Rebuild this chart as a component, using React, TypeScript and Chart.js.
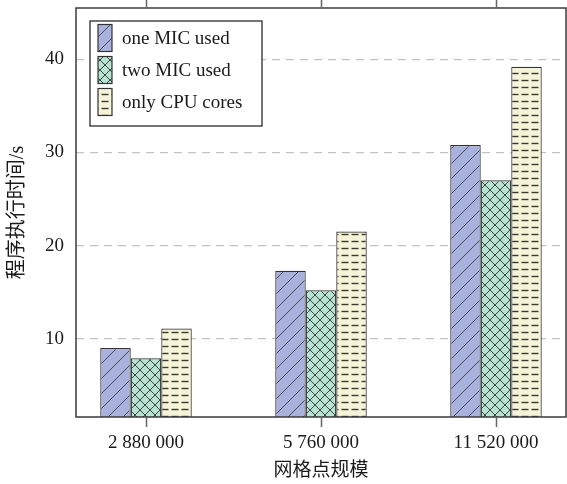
import React, { useEffect, useRef } from 'react';
import { Chart, registerables } from 'chart.js';

Chart.register(...registerables);

const CATEGORIES = ['2 880 000', '5 760 000', '11 520 000'];
const SERIES_LABELS = ['one MIC used', 'two MIC used', 'only CPU cores'];
const ONE_MIC = [9.0, 17.3, 30.8];
const TWO_MIC = [7.9, 15.2, 27.0];
const CPU_ONLY = [11.1, 21.5, 39.2];
const Y_TICKS = [10, 20, 30, 40];
const X_TITLE = '网格点规模';
const Y_TITLE = '程序执行时间/s';

const FONT_FAMILY = '"Liberation Serif", "Times New Roman", "Noto Sans CJK SC", serif';
const TEXT_COLOR = '#1a1a1a';

function makePattern(kind: 'diag' | 'cross' | 'dash', bg: string): CanvasPattern | string {
  const c = document.createElement('canvas');
  const ctx = c.getContext('2d');
  if (!ctx) return bg;
  if (kind === 'diag') {
    const s = 15;
    c.width = s; c.height = s;
    ctx.fillStyle = bg; ctx.fillRect(0, 0, s, s);
    ctx.strokeStyle = '#454a5e'; ctx.lineWidth = 1;
    ctx.beginPath();
    ctx.moveTo(-1, s + 1); ctx.lineTo(s + 1, -1);
    ctx.moveTo(-2, 2); ctx.lineTo(2, -2);
    ctx.moveTo(s - 2, s + 2); ctx.lineTo(s + 2, s - 2);
    ctx.stroke();
  } else if (kind === 'cross') {
    const s = 10;
    c.width = s; c.height = s;
    ctx.fillStyle = bg; ctx.fillRect(0, 0, s, s);
    ctx.strokeStyle = '#3c4a44'; ctx.lineWidth = 1;
    ctx.beginPath();
    ctx.moveTo(-1, s + 1); ctx.lineTo(s + 1, -1);
    ctx.moveTo(-1, -1); ctx.lineTo(s + 1, s + 1);
    ctx.stroke();
  } else {
    const w = 10, h = 7;
    c.width = w; c.height = h;
    ctx.fillStyle = bg; ctx.fillRect(0, 0, w, h);
    ctx.strokeStyle = '#3a3a30'; ctx.lineWidth = 1.4;
    ctx.beginPath();
    ctx.moveTo(1.5, 3.5); ctx.lineTo(8.5, 3.5);
    ctx.stroke();
  }
  return ctx.createPattern(c, 'repeat') || bg;
}

export default function App() {
  const canvasRef = useRef<HTMLCanvasElement | null>(null);

  useEffect(() => {
    const canvas = canvasRef.current;
    if (!canvas) return;
    const fills = [
      makePattern('diag', '#a9b2dc'),
      makePattern('cross', '#b8e2d1'),
      makePattern('dash', '#f6f4d8'),
    ];
    const seriesValues = [ONE_MIC, TWO_MIC, CPU_ONLY];

    const framePlugin = {
      id: 'frameAndLegend',
      afterDraw(chart: any) {
        const { ctx, chartArea } = chart;
        const { left, right, top, bottom } = chartArea;
        const xScale = chart.scales.x;
        ctx.save();
        // frame
        ctx.strokeStyle = '#3a3a3a';
        ctx.lineWidth = 1.5;
        ctx.strokeRect(left, top, right - left, bottom - top);

        // top mirror ticks and bottom tick marks
        ctx.strokeStyle = '#666666';
        ctx.lineWidth = 1.5;
        CATEGORIES.forEach((_, i) => {
          const px = Math.round(xScale.getPixelForValue(i + 1)) + 0.5;
          ctx.beginPath();
          ctx.moveTo(px, 0);
          ctx.lineTo(px, top - 0.75);
          ctx.moveTo(px, bottom + 0.5);
          ctx.lineTo(px, bottom + 10);
          ctx.stroke();
        });

        // legend
        const bx = left + 14, by = top + 13, bw = 172, bh = 105;
        ctx.fillStyle = '#ffffff';
        ctx.fillRect(bx, by, bw, bh);
        ctx.strokeStyle = '#2a2a2a';
        ctx.lineWidth = 1.3;
        ctx.strokeRect(bx, by, bw, bh);
        ctx.font = `19px ${FONT_FAMILY}`;
        ctx.textBaseline = 'middle';
        ctx.textAlign = 'left';
        chart.data.datasets.forEach((ds: any, i: number) => {
          const cy = by + 17 + i * 32;
          const sx = bx + 8, sw = 14, sh = 27;
          ctx.fillStyle = ds.backgroundColor;
          ctx.fillRect(sx, cy - sh / 2, sw, sh);
          ctx.strokeStyle = '#333';
          ctx.lineWidth = 1.2;
          ctx.strokeRect(sx, cy - sh / 2, sw, sh);
          ctx.fillStyle = TEXT_COLOR;
          ctx.fillText(ds.label, bx + 32, cy + 1);
        });
        ctx.restore();
      },
    };

    const chart = new Chart(canvas, {
      type: 'bar',
      data: {
        datasets: SERIES_LABELS.map((label, i) => ({
          label,
          data: seriesValues[i].map((v, j) => ({ x: j + 1, y: v })),
          backgroundColor: fills[i] as any,
          borderColor: '#333333',
          borderWidth: 1.2,
          categoryPercentage: 0.523,
          barPercentage: 1,
        })),
      },
      options: {
        animation: false,
        responsive: true,
        maintainAspectRatio: false,
        layout: { padding: { top: 8, right: 1, left: 0, bottom: 0 } },
        plugins: {
          legend: { display: false },
          tooltip: { enabled: false },
        },
        scales: {
          x: {
            type: 'linear',
            min: 0.6,
            max: 3.4,
            offset: false,
            afterBuildTicks: (scale: any) => {
              scale.ticks = CATEGORIES.map((_, i) => ({ value: i + 1 }));
            },
            afterFit: (scale: any) => {
              scale.height = 67;
              scale.paddingLeft = 0;
              scale.paddingRight = 0;
            },
            grid: {
              offset: false,
              drawOnChartArea: false,
              drawTicks: false,
            },
            border: { display: false },
            ticks: {
              padding: 15,
              color: TEXT_COLOR,
              font: { family: FONT_FAMILY, size: 19 },
              maxRotation: 0,
              autoSkip: false,
              callback: (v: any) => CATEGORIES[Number(v) - 1] ?? '',
            },
            title: {
              display: true,
              text: X_TITLE,
              color: TEXT_COLOR,
              font: { family: FONT_FAMILY, size: 19 },
              padding: { top: 0, bottom: 2 },
            },
          },
          y: {
            type: 'linear',
            min: 1.6,
            max: 45.5,
            afterBuildTicks: (scale: any) => {
              scale.ticks = Y_TICKS.map((v) => ({ value: v }));
            },
            afterFit: (scale: any) => {
              scale.width = 76;
              scale.paddingTop = 0;
              scale.paddingBottom = 0;
            },
            grid: {
              drawOnChartArea: true,
              drawTicks: false,
              color: '#c2c2c2',
              lineWidth: 1.2,
            },
            border: { display: false, dash: [8, 6] },
            ticks: {
              padding: 12,
              color: TEXT_COLOR,
              font: { family: FONT_FAMILY, size: 19 },
            },
            title: {
              display: true,
              text: Y_TITLE,
              color: TEXT_COLOR,
              font: { family: FONT_FAMILY, size: 20 },
              padding: { top: 6, bottom: 0 },
            },
          },
        },
      },
      plugins: [framePlugin],
    } as any);

    return () => chart.destroy();
  }, []);

  return (
    <div style={{ position: 'absolute', left: 0, top: 0, width: 567, height: 484, background: '#ffffff' }}>
      <canvas ref={canvasRef} />
    </div>
  );
}
